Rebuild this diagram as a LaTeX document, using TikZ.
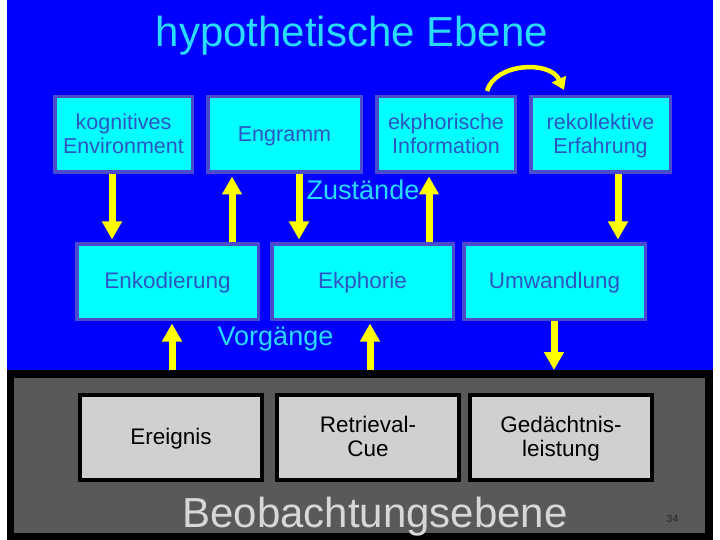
\documentclass[tikz,border=0pt]{standalone}
\usepackage{fontspec}
\setmainfont{Liberation Sans}
\usetikzlibrary{arrows.meta}
\definecolor{bgblue}{RGB}{0,0,255}
\definecolor{boxcyan}{RGB}{0,255,255}
\definecolor{boxedge}{RGB}{75,75,205}
\definecolor{boxtext}{RGB}{45,85,195}
\definecolor{labcyan}{RGB}{40,220,255}
\definecolor{obsgray}{RGB}{89,89,89}
\definecolor{obsfill}{RGB}{208,208,208}
\definecolor{obstext}{RGB}{215,215,215}
\definecolor{arrowyellow}{RGB}{255,255,0}
\newcommand{\mystrut}{\rule[-0.22\baselineskip]{0pt}{\baselineskip}}
\begin{document}
\begin{tikzpicture}[x=1pt,y=-1pt,
  hypbox/.style={draw=boxedge, fill=boxcyan, line width=3.5pt, text=boxtext,
    font=\fontsize{21.5}{24}\selectfont, align=center, minimum height=75.5pt, inner sep=0pt},
  procbox/.style={hypbox, font=\fontsize{22.5}{25}\selectfont, minimum width=181.5pt},
  obsbox/.style={draw=black, fill=obsfill, line width=4pt, text=black,
    font=\fontsize{22.5}{24.5}\selectfont, align=center, minimum width=182pt,
    minimum height=85pt, inner sep=0pt},
  lab/.style={text=labcyan, font=\fontsize{27}{30}\selectfont, inner sep=0pt},
  bigarrow/.style={draw=arrowyellow, line width=7pt, shorten >=2.5pt,
    -{Triangle[width=19pt,length=18pt]}},
  curvearrow/.style={draw=arrowyellow, line width=4.5pt,
    -{Triangle[width=15pt,length=12pt]}}
]
\useasboundingbox (0,0) rectangle (720,540);
\fill[white] (0,0) rectangle (720,540);
% levels
\fill[bgblue] (7,0) rectangle (713,370);
\fill[black] (7,370) rectangle (713,540);
\fill[obsgray] (14,378) rectangle (705,533);

% title and level labels
\node[text=labcyan, font=\fontsize{42}{48}\selectfont, anchor=base, inner sep=0pt]
  (title) at (352,47) {hypothetische Ebene};
\node[lab, anchor=base] (zust) at (363,200) {Zustände};
\node[lab, anchor=base] (vorg) at (275.5,345) {Vorgänge};
\node[text=obstext, font=\fontsize{42}{48}\selectfont, anchor=base, inner sep=0pt]
  (beob) at (375,527) {Beobachtungsebene};
\node[text=black!85, font=\fontsize{10.5}{12}\selectfont, inner sep=0pt]
  (pg) at (672.5,519) {34};

% states
\node[hypbox, minimum width=137.5pt] (kog) at (123.5,134.5) {\mystrut kognitives\\\mystrut Environment};
\node[hypbox, minimum width=153.5pt] (eng) at (284.5,134.5) {\mystrut Engramm};
\node[hypbox, minimum width=138.5pt] (ekph) at (446,134.5) {\mystrut ekphorische\\\mystrut Information};
\node[hypbox, minimum width=139.5pt] (rek) at (600.5,134.5) {\mystrut rekollektive\\\mystrut Erfahrung};

% processes
\node[procbox] (enk) at (167.5,281.5) {\mystrut Enkodierung};
\node[procbox] (ekp) at (362.5,281.5) {\mystrut Ekphorie};
\node[procbox] (umw) at (554.5,281.5) {\mystrut Umwandlung};

% observation level
\node[obsbox] (ere) at (171,437.5) {\mystrut Ereignis};
\node[obsbox] (ret) at (368,437.5) {\mystrut Retrieval-\\\mystrut Cue};
\node[obsbox] (ged) at (561,437.5) {\mystrut Gedächtnis-\\\mystrut leistung};

% arrow columns
\coordinate (x1) at (112,0);
\coordinate (x2) at (232,0);
\coordinate (x3) at (299,0);
\coordinate (x4) at (429,0);
\coordinate (x5) at (618,0);
\coordinate (x7) at (172,0);
\coordinate (x8) at (370,0);
\coordinate (x9) at (554,0);
\coordinate (band) at (0,370);

\draw[bigarrow] (x1 |- kog.south) -- (x1 |- enk.north);
\draw[bigarrow] (x2 |- enk.north) -- (x2 |- eng.south);
\draw[bigarrow] (x3 |- eng.south) -- (x3 |- ekp.north);
\draw[bigarrow] (x4 |- ekp.north) -- (x4 |- ekph.south);
\draw[bigarrow] (x5 |- rek.south) -- (x5 |- umw.north);
\draw[bigarrow] (x7 |- band) -- (x7 |- enk.south);
\draw[bigarrow] (x8 |- band) -- (x8 |- ekp.south);
\draw[bigarrow, shorten >=0pt] (x9 |- umw.south) -- (x9 |- band);

\draw[curvearrow] ([xshift=41pt,yshift=4pt]ekph.north)
  .. controls +(8,-28) and +(-14,-30) .. ([xshift=-36.5pt,yshift=5pt]rek.north);
\end{tikzpicture}
\end{document}
